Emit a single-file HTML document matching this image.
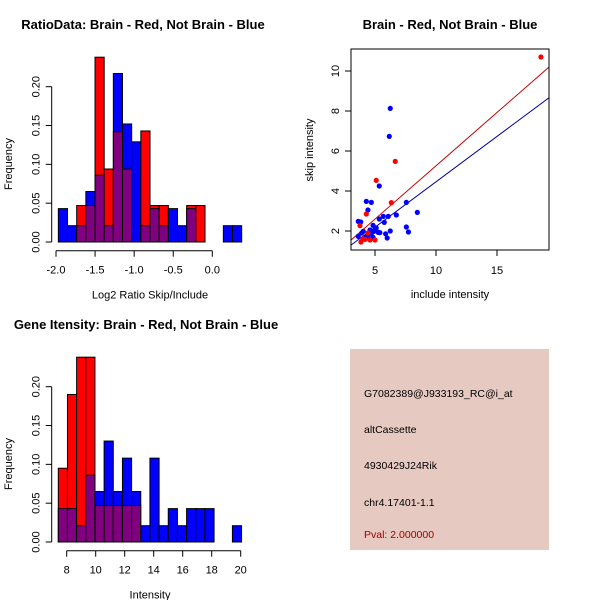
<!DOCTYPE html>
<html><head><meta charset="utf-8"><style>
body{margin:0;background:#fff;}
svg{display:block;font-family:"Liberation Sans",sans-serif;}
</style></head><body>
<svg id="c" width="600" height="600" viewBox="0 0 600 600">
<rect width="600" height="600" fill="#fff"/>
<rect x="350" y="349" width="199" height="201" fill="#e6c9c1"/>
<g font-size="10.5" fill="#000">
<text x="364" y="397">G7082389@J933193_RC@i_at</text>
<text x="364" y="433">altCassette</text>
<text x="364" y="469">4930429J24Rik</text>
<text x="364" y="506">chr4.17401-1.1</text>
<text x="364" y="538" fill="#a00000">Pval: 2.000000</text>
</g>
</svg>
<script>
// ---- Histogram 1: log2 ratio ----
const h1Start = -1.97, h1Width = 0.1173;
const h1Red  = [0,0,0.047,0.047,0.238,0.094,0.142,0.094,0,0.143,0.047,0.047,0,0,0.047,0.047,0,0,0,0];
const h1Blue = [0.043,0.021,0.021,0.065,0.086,0.021,0.217,0.152,0.129,0.021,0.043,0.021,0.043,0.021,0.043,0,0,0,0.021,0.021];
const h1XTicks = [-2.0,-1.5,-1.0,-0.5,0.0];
const h1XLabels = ["-2.0","-1.5","-1.0","-0.5","0.0"];
const yTicks = [0,0.05,0.10,0.15,0.20];
const yLabels = ["0.00","0.05","0.10","0.15","0.20"];
// ---- Histogram 2: intensity ----
const h2Start = 7.42, h2Width = 0.632;
const h2Red  = [0.095,0.19,0.238,0.238,0.047,0.047,0.047,0.047,0.047,0,0,0,0,0,0,0,0,0,0,0];
const h2Blue = [0.043,0.043,0.021,0.086,0.065,0.13,0.065,0.108,0.065,0.021,0.108,0.021,0.043,0.021,0.043,0.043,0.043,0,0,0.021];
const h2XTicks = [8,10,12,14,16,18,20];
const h2XLabels = ["8","10","12","14","16","18","20"];
// ---- Scatter ----
const redX = [18.6,6.66,5.1,6.34,4.29,3.77,3.85,4.18,4.59,5.0,4.42,4.0];
const redY = [10.7,5.48,4.53,3.42,2.85,2.27,1.45,1.58,1.55,1.55,1.9,1.6];
const blueX = [6.25,6.17,5.35,4.29,4.7,7.57,8.47,4.42,6.75,3.63,3.83,5.35,5.68,6.09,5.76,7.57,7.74,6.25,5.87,6.0,4.84,5.1,4.59,4.04,3.63,4.45,4.84,5.26,4.26,3.91,4.7,5.4,4.9];
const blueY = [8.13,6.73,4.25,3.48,3.43,3.43,2.93,3.05,2.8,2.48,2.45,2.6,2.73,2.73,2.43,2.2,1.95,2.0,1.86,1.65,2.28,2.15,2.05,1.98,1.73,1.78,1.68,1.93,1.68,1.9,1.88,1.92,1.98];
const redFit = [-0.07,0.533];
const blueFit = [-0.08,0.454];
const sXTicks = [5,10,15];
const sYTicks = [2,4,6,8,10];

const svg = document.getElementById('c');
const NS = 'http://www.w3.org/2000/svg';
function mk(tag, attrs, parent){
  const e = document.createElementNS(NS, tag);
  for (const k in attrs) e.setAttribute(k, attrs[k]);
  (parent||svg).appendChild(e);
  return e;
}
function txt(x,y,s,size,extra,parent){
  const t = mk('text', Object.assign({x:x,y:y,'font-size':size,'text-anchor':'middle'}, extra||{}), parent);
  t.textContent = s;
  return t;
}

function hist(cfg){
  const g = mk('g', {});
  
  
  const xs = v => cfg.x0 + (v - cfg.xv0) * cfg.xk;
  const ys = v => cfg.base - v * cfg.yk;
  const n = cfg.red.length;
  for (let i=0;i<n;i++){
    const a = xs(cfg.start + i*cfg.width), b = xs(cfg.start + (i+1)*cfg.width);
    const r = cfg.red[i], bl = cfg.blue[i];
    const lo = Math.min(r, bl), hi = Math.max(r, bl);
    if (hi > 0){
      const col = r > bl ? '#ff0000' : '#0000ff';
      const el = mk('rect', {x:a, y:ys(hi), width:b-a, height:ys(0)-ys(hi), fill:col, stroke:'#000', 'stroke-width':1}, g);
      
      
    }
    if (lo > 0){
      const el = mk('rect', {x:a, y:ys(lo), width:b-a, height:ys(0)-ys(lo), fill:'#800080', stroke:'#000', 'stroke-width':1}, g);
      
      
    }
  }
  const yax = mk('g', {}, g);
  
  
  mk('line', {x1:cfg.yAxisX, x2:cfg.yAxisX, y1:ys(0), y2:ys(0.2), stroke:'#000'}, yax);
  yTicks.forEach((v,i)=>{
    mk('line', {x1:cfg.yAxisX-6, x2:cfg.yAxisX, y1:ys(v), y2:ys(v), stroke:'#000'}, yax);
    txt(0,0,yLabels[i],11,{transform:`translate(${cfg.yAxisX-12},${ys(v)}) rotate(-90)`}, yax);
  });
  const xax = mk('g', {}, g);
  
  
  const xt = cfg.xTicks;
  mk('line', {x1:xs(xt[0]), x2:xs(xt[xt.length-1]), y1:cfg.xAxisY, y2:cfg.xAxisY, stroke:'#000'}, xax);
  xt.forEach((v,i)=>{
    mk('line', {x1:xs(v), x2:xs(v), y1:cfg.xAxisY, y2:cfg.xAxisY+6, stroke:'#000'}, xax);
    txt(xs(v), cfg.xAxisY+23, cfg.xLabels[i], 11, {}, xax);
  });
  const xl = txt(150, cfg.xAxisY+48, cfg.xTitle, 11, {}, g);
  
  
  const yl = txt(0,0,'Frequency',11,{transform:`translate(12,${cfg.base-78}) rotate(-90)`}, g);
  
  
  const tt = txt(cfg.titleX, cfg.titleY, cfg.title, 13, {'font-weight':'bold'}, g);
  
  
}

hist({name:'ratio-histogram', red:h1Red, blue:h1Blue, start:h1Start, width:h1Width,
  x0:56, xv0:-2, xk:78.15, base:242, yk:776.5, yAxisX:51.7, xAxisY:250.7,
  xTicks:h1XTicks, xLabels:h1XLabels, xTitle:'Log2 Ratio Skip/Include',
  title:'RatioData: Brain - Red, Not Brain - Blue', titleX:143, titleY:29});
hist({name:'intensity-histogram', red:h2Red, blue:h2Blue, start:h2Start, width:h2Width,
  x0:66.7, xv0:8, xk:14.5, base:542, yk:776.5, yAxisX:51.7, xAxisY:550.7,
  xTicks:h2XTicks, xLabels:h2XLabels, xTitle:'Intensity',
  title:'Gene Itensity: Brain - Red, Not Brain - Blue', titleX:146, titleY:329});

(function(){
  const g = mk('g', {});
  
  
  const L=351, R=549, T=49, B=250;
  const xs = v => 375 + (v-5)*12.2;
  const ys = v => 231 - (v-2)*20;
  const clip = mk('clipPath', {id:'sc'}, g);
  mk('rect', {x:L, y:T, width:R-L, height:B-T}, clip);
  const xa = 3.03, xb = 19.26;
  const rl = mk('line', {x1:xs(xa), y1:ys(redFit[0]+redFit[1]*xa), x2:xs(xb), y2:ys(redFit[0]+redFit[1]*xb), stroke:'#c00000', 'stroke-width':1, 'clip-path':'url(#sc)'}, g);
  
  
  const bl = mk('line', {x1:xs(xa), y1:ys(blueFit[0]+blueFit[1]*xa), x2:xs(xb), y2:ys(blueFit[0]+blueFit[1]*xb), stroke:'#0000a0', 'stroke-width':1, 'clip-path':'url(#sc)'}, g);
  
  
  blueX.forEach((v,i)=>{
    const p = mk('circle', {cx:xs(v), cy:ys(blueY[i]), r:2.6, fill:'#0000ff'}, g);
    
    
  });
  redX.forEach((v,i)=>{
    const p = mk('circle', {cx:xs(v), cy:ys(redY[i]), r:2.6, fill:'#ff0000'}, g);
    
    
  });
  mk('rect', {x:L, y:T, width:R-L, height:B-T, fill:'none', stroke:'#000'}, g);
  sXTicks.forEach(v=>{
    mk('line', {x1:xs(v), x2:xs(v), y1:B, y2:B+6, stroke:'#000'}, g);
    txt(xs(v), 274, String(v), 11, {}, g);
  });
  sYTicks.forEach(v=>{
    mk('line', {x1:L-6, x2:L, y1:ys(v), y2:ys(v), stroke:'#000'}, g);
    txt(0,0,String(v),11,{transform:`translate(${L-12},${ys(v)}) rotate(-90)`}, g);
  });
  const xt = txt(450, 298, 'include intensity', 11, {}, g);
  
  
  const yt = txt(0,0,'skip intensity',11,{transform:'translate(313,150) rotate(-90)'}, g);
  
  
  const tt = txt(450, 29, 'Brain - Red, Not Brain - Blue', 13, {'font-weight':'bold'}, g);
  
  
})();
</script>
</body></html>
